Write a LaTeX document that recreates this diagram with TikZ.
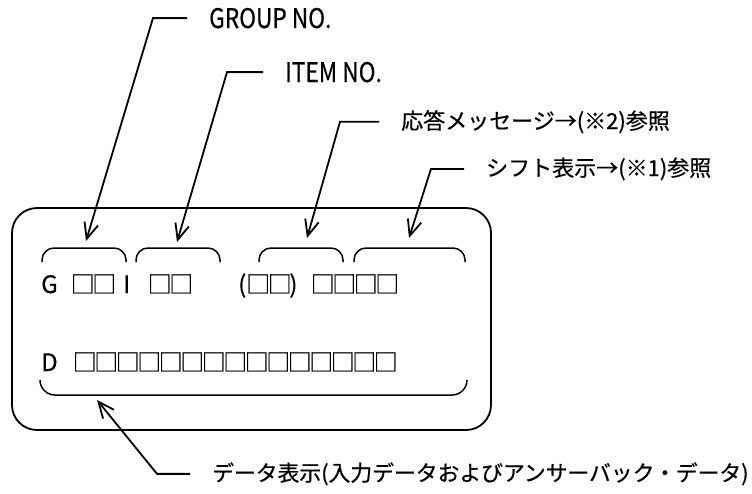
\documentclass[tikz,border=0pt]{standalone}
\usepackage{fontspec}
\setmainfont{Noto Sans CJK JP}[FakeBold=0.6]
\newfontfamily\narrowfont{Noto Sans CJK JP}[FakeStretch=0.84, FakeBold=0.6]
\usetikzlibrary{arrows.meta}

% one display cell
\newcommand{\sq}{□\kern-2.5pt}

\begin{document}
\begin{tikzpicture}[
        x=1pt, y=-1pt,
        >={Straight Barb[length=16pt, width=14pt]},
        pointer/.style={->, line width=1.8pt},
        brace/.style={line width=1.5pt, rounded corners=12pt},
        callout/.style={anchor=base west, inner xsep=22pt, inner ysep=0pt, font=\fontsize{22}{26}\selectfont},
        latinlabel/.style={callout, font=\narrowfont\fontsize{27}{32}\selectfont},
        glyphrow/.style={anchor=base west, inner sep=0pt, font=\fontsize{24}{28}\selectfont},
        letter/.style={anchor=base west, inner sep=0pt, font=\fontsize{24}{28}\selectfont}
    ]
    \useasboundingbox (0,0) rectangle (752,493);

    % --- Display panel ---
    \draw[line width=1.8pt, rounded corners=25pt] (12,208) rectangle (491,430);

    % --- Row 1: group / item / message / shift ---
    \node[letter] (gmark) at (41,293) {G};
    \node[glyphrow] (gcells) at (70.5,293) {\sq\sq};
    \node[letter] (imark) at (123,293) {I};
    \node[glyphrow] (icells) at (147.5,293) {\sq\sq};
    \node[glyphrow] (rcells) at (238,293) {(\sq\sq)};
    \node[glyphrow] (scells) at (310.5,293) {\sq\sq\sq\sq};

    % --- Row 2: data ---
    \node[letter] (dmark) at (41,371) {D};
    \node[glyphrow] (dcells) at (72.5,371) {\sq\sq\sq\sq\sq\sq\sq\sq\sq\sq\sq\sq\sq\sq\sq};

    % --- Brackets ---
    \foreach \a/\b in {42/126, 136/220, 259/343, 354/465}
        \draw[brace] (\a,262) -- (\a,248) -- (\b,248) -- (\b,262);
    \draw[brace, rounded corners=15pt] (40,380) -- (40,395) -- (467,395) -- (467,380);

    % --- Callouts ---
    \node[latinlabel] (grp) at (187,28) {GROUP NO.};
    \node[latinlabel] (item) at (263,82) {ITEM NO.};
    \node[callout] (resp) at (379,129) {応答メッセージ→(※2)参照};
    \node[callout] (shiftlbl) at (464,176) {シフト表示→(※1)参照};
    \node[callout, font=\fontsize{21.8}{26}\selectfont] (datalbl) at (190,481) {データ表示(入力データおよびアンサーバック・データ)};

    \coordinate (grptip) at (86,241);
    \coordinate (itemtip) at (177,242);
    \coordinate (resptip) at (307,238);
    \coordinate (shifttip) at (409,238);
    \coordinate (datatip) at (97,400);

    % --- Leader lines ---
    \draw[pointer] (grp.west) -- ([xshift=-34pt]grp.west) -- (grptip);
    \draw[pointer] (item.west) -- ([xshift=-36pt]item.west) -- (itemtip);
    \draw[pointer] (resp.west) -- ([xshift=-39pt]resp.west) -- (resptip);
    \draw[pointer] (shiftlbl.west) -- ([xshift=-33pt]shiftlbl.west) -- (shifttip);
    \draw[pointer] (datalbl.west) -- ([xshift=-33pt]datalbl.west) -- (datatip);

\end{tikzpicture}
\end{document}
